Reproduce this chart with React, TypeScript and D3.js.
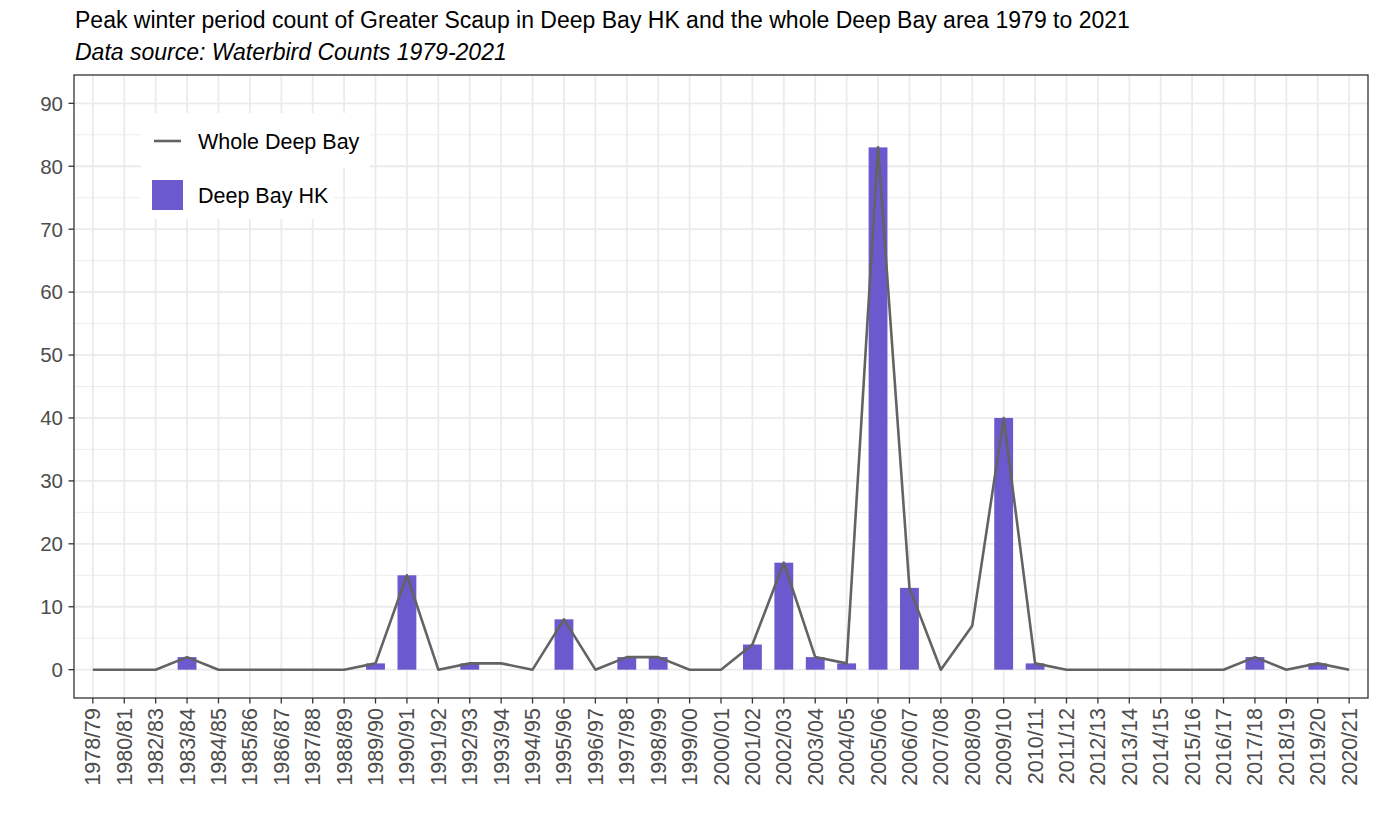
import React from "react";
import * as d3 from "d3";

const seasons = [
  "1978/79","1980/81","1982/83","1983/84","1984/85","1985/86","1986/87","1987/88","1988/89","1989/90",
  "1990/91","1991/92","1992/93","1993/94","1994/95","1995/96","1996/97","1997/98","1998/99","1999/00",
  "2000/01","2001/02","2002/03","2003/04","2004/05","2005/06","2006/07","2007/08","2008/09","2009/10",
  "2010/11","2011/12","2012/13","2013/14","2014/15","2015/16","2016/17","2017/18","2018/19","2019/20","2020/21",
];
const deepBayHK = [
  0,0,0,2,0,0,0,0,0,1,
  15,0,1,0,0,8,0,2,2,0,
  0,4,17,2,1,83,13,0,0,40,
  1,0,0,0,0,0,0,2,0,1,0,
];
const wholeDeepBay = [
  0,0,0,2,0,0,0,0,0,1,
  15,0,1,1,0,8,0,2,2,0,
  0,4,17,2,1,83,13,0,7,40,
  1,0,0,0,0,0,0,2,0,1,0,
];
const yMajor = [0,10,20,30,40,50,60,70,80,90];
const yMinor = [5,15,25,35,45,55,65,75,85];

const titleText = "Peak winter period count of Greater Scaup in Deep Bay HK and the whole Deep Bay area 1979 to 2021";
const subtitleText = "Data source: Waterbird Counts 1979-2021";
const legendLine = "Whole Deep Bay";
const legendBar = "Deep Bay HK";

const W = 1379, H = 827;
const P = { left: 74, right: 1368, top: 75, bottom: 698 };
const FONT = "'Liberation Sans', Arial, Helvetica, sans-serif";

export default function App() {
  const x = d3.scalePoint<string>().domain(seasons).range([P.left, P.right]).padding(0.6);
  const step = x.step();
  const y = d3.scaleLinear().domain([-4.5, 94.5]).range([P.bottom, P.top]);
  const barW = step * 0.6;
  const line = d3.line<number>().x((_, i) => x(seasons[i])!).y((d) => y(d));

  return (
    <svg width={W} height={H} style={{ position: "absolute", left: 0, top: 0, background: "#fff" }} fontFamily={FONT}>
      <rect x={0} y={0} width={W} height={H} fill="#fff" />
      <text x={75} y={28} fontSize={23} fill="#000">{titleText}</text>
      <text x={75} y={60} fontSize={23} fontStyle="italic" fill="#000">{subtitleText}</text>

      {/* grid */}
      {yMinor.map((v) => (
        <line key={"mi" + v} x1={P.left} x2={P.right} y1={y(v)} y2={y(v)} stroke="#ebebeb" strokeWidth={0.9} />
      ))}
      {yMajor.map((v) => (
        <line key={"ma" + v} x1={P.left} x2={P.right} y1={y(v)} y2={y(v)} stroke="#ebebeb" strokeWidth={1.8} />
      ))}
      {seasons.map((s) => (
        <line key={"vx" + s} x1={x(s)} x2={x(s)} y1={P.top} y2={P.bottom} stroke="#ebebeb" strokeWidth={1.8} />
      ))}

      {/* legend backgrounds */}
      <rect x={141} y={113} width={229} height={55} fill="#fff" />
      <rect x={141} y={167} width={193} height={52} fill="#fff" />

      {/* bars */}
      {deepBayHK.map((v, i) => (
        <rect key={"b" + i} x={x(seasons[i])! - barW / 2} y={y(v)} width={barW} height={y(0) - y(v)} fill="#6a5acd" />
      ))}

      {/* line */}
      <path d={line(wholeDeepBay) || ""} fill="none" stroke="#636363" strokeWidth={2.6} strokeLinejoin="round" />

      {/* panel border */}
      <rect x={P.left} y={P.top} width={P.right - P.left} height={P.bottom - P.top} fill="none" stroke="#333" strokeWidth={1.3} />

      {/* y axis */}
      {yMajor.map((v) => (
        <g key={"yt" + v}>
          <line x1={P.left - 5.5} x2={P.left} y1={y(v)} y2={y(v)} stroke="#333" strokeWidth={1.3} />
          <text x={P.left - 11} y={y(v)} dy="0.36em" textAnchor="end" fontSize={20.5} fill="#4d4d4d">{v}</text>
        </g>
      ))}

      {/* x axis */}
      {seasons.map((s) => (
        <g key={"xt" + s}>
          <line x1={x(s)} x2={x(s)} y1={P.bottom} y2={P.bottom + 5.5} stroke="#333" strokeWidth={1.3} />
          <text transform={`translate(${x(s)! + 7.5},${P.bottom + 10}) rotate(-90)`} textAnchor="end" fontSize={21.5} fill="#4d4d4d">{s}</text>
        </g>
      ))}

      {/* legend */}
      <line x1={154} x2={181} y1={141} y2={141} stroke="#636363" strokeWidth={2.6} />
      <text x={198} y={149} fontSize={21.5} fill="#000">{legendLine}</text>
      <rect x={152} y={180} width={31} height={30} fill="#6a5acd" />
      <text x={198} y={203} fontSize={21.5} fill="#000">{legendBar}</text>
    </svg>
  );
}
